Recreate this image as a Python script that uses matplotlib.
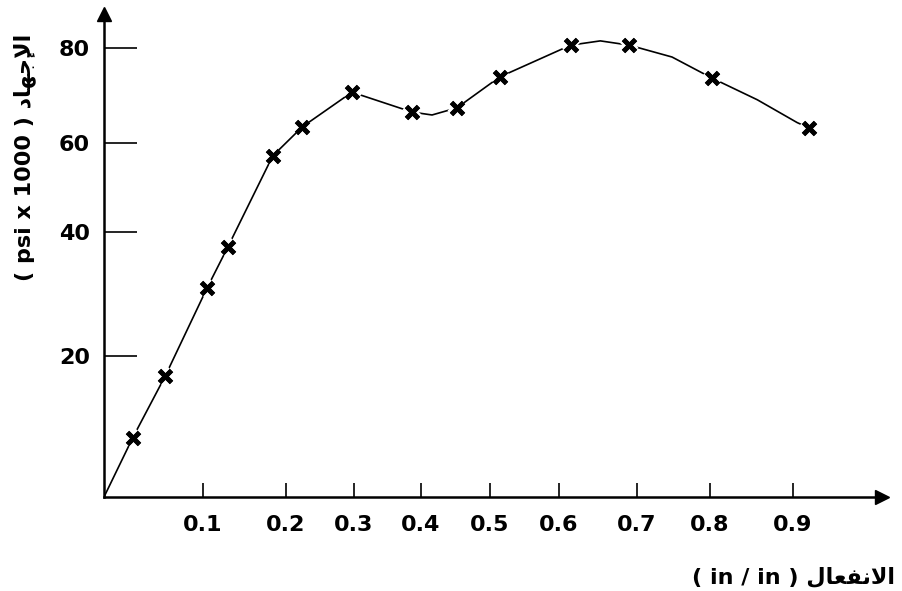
import numpy as np
import matplotlib
matplotlib.use("Agg")
import matplotlib.pyplot as plt
from matplotlib import patheffects

# measured strain / stress points (stress in psi x 1000)
strain = [0.029, 0.062, 0.105, 0.130, 0.184, 0.224, 0.297, 0.387, 0.452, 0.514, 0.615, 0.690, 0.802, 0.919]
stress = [8.4, 17.2, 31.0, 37.6, 57.1, 63.4, 70.7, 66.5, 67.4, 73.9, 80.6, 80.6, 73.7, 63.2]

# extra points read along the hand drawn curve between the markers
bend_x = [0.0, 0.416, 0.653, 0.748, 0.857, 0.905]
bend_y = [0.0, 65.9, 81.5, 78.1, 69.1, 64.3]

x_ticks = [0.1, 0.2, 0.3, 0.4, 0.5, 0.6, 0.7, 0.8, 0.9]
x_labels = ["0.1", "0.2", "0.3", "0.4", "0.5", "0.6", "0.7", "0.8", "0.9"]
y_ticks = [20, 40, 60, 80]
y_labels = ["20", "40", "60", "80"]

y_title = "( psi x 1000 ) " + "\ufea9\ufe8e\ufeec\ufe9f\ufef9\ufe8d"
x_title = "( in / in ) " + "\ufedd\ufe8e\ufecc\ufed4\ufee7\ufefb\ufe8d"

FONT = ["DejaVu Sans"]

# the printed axes are not evenly spaced: value -> pixel knots
x_knots = [0.0, 0.1, 0.2, 0.3, 0.4, 0.5, 0.6, 0.7, 0.8, 0.9]
x_pix = [104, 203, 286, 354, 421, 490, 559, 637, 710, 793]
y_knots = [0, 20, 40, 60, 80]
y_pix = [591 - p for p in (497, 356, 232, 143, 48)]


def piecewise(src, dst):
    src = np.asarray(src, float)
    dst = np.asarray(dst, float)
    s0 = (dst[1] - dst[0]) / (src[1] - src[0])
    s1 = (dst[-1] - dst[-2]) / (src[-1] - src[-2])

    def f(v):
        v = np.asarray(v, float)
        out = np.interp(v, src, dst)
        out = np.where(v < src[0], dst[0] + (v - src[0]) * s0, out)
        out = np.where(v > src[-1], dst[-1] + (v - src[-1]) * s1, out)
        return out

    return f


fx, ix = piecewise(x_knots, x_pix), piecewise(x_pix, x_knots)
fy, iy = piecewise(y_knots, y_pix), piecewise(y_pix, y_knots)

W, H = 903, 591
fig = plt.figure(figsize=(W / 100, H / 100), dpi=100)
left, right, bottom, top = 104, 882, 591 - 497, 591 - 14
ax = fig.add_axes([left / W, bottom / H, (right - left) / W, (top - bottom) / H])
ax.set_xscale("function", functions=(fx, ix))
ax.set_yscale("function", functions=(fy, iy))
ax.set_xlim(0, float(ix(right)))
ax.set_ylim(0, float(iy(top)))

# curve through the origin, markers and bend points
cx = np.array(bend_x + strain)
cy = np.array(bend_y + stress)
order = np.argsort(cx)
ax.plot(cx[order], cy[order], color="black", lw=1.2, zorder=2)
ax.plot(strain, stress, ls="none", marker="x", ms=8.5, mew=3.4, color="black", zorder=3,
        path_effects=[patheffects.withStroke(linewidth=7, foreground="white"), patheffects.Normal()])

for s in ("top", "right"):
    ax.spines[s].set_visible(False)
for s in ("left", "bottom"):
    ax.spines[s].set_linewidth(1.8)
ax.plot(1, 0, ">", color="black", ms=10, transform=ax.get_yaxis_transform(), clip_on=False)
ax.plot(0, 1, "^", color="black", ms=10, transform=ax.get_xaxis_transform(), clip_on=False)

ax.set_xticks(x_ticks)
ax.set_xticklabels(x_labels)
ax.set_yticks(y_ticks)
ax.set_yticklabels(y_labels)
ax.tick_params(axis="x", direction="in", length=10, width=1.2, pad=13)
ax.tick_params(axis="y", direction="in", length=24, width=1.2, pad=10)
for lab in ax.get_xticklabels() + ax.get_yticklabels():
    lab.set_fontfamily(FONT)
    lab.set_fontweight("bold")
    lab.set_fontsize(16)

fig.text(25 / W, 1 - 157 / H, y_title, rotation=90, ha="center", va="center",
         family=FONT, fontweight="bold", fontsize=16)
fig.text(692 / W, 1 - 577 / H, x_title, ha="left", va="center",
         family=FONT, fontweight="bold", fontsize=16)

fig.savefig("out.png", dpi=100)
